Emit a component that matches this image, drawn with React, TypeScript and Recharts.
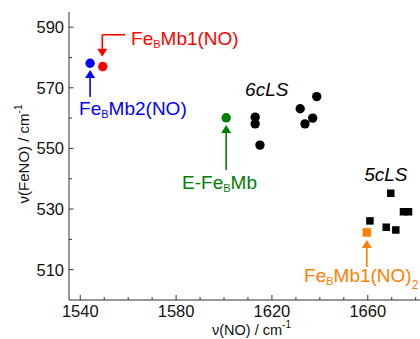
import React from 'react';
import { ScatterChart, Scatter, XAxis, YAxis, ReferenceLine, ReferenceDot } from 'recharts';

const FONT = '"Liberation Sans", Arial, sans-serif';
const AXIS = '#333333';

const colors = {
  mb1: '#ff0000',
  mb2: '#0000ff',
  eFe: '#008000',
  dinitrosyl: '#ff8000',
  ls: '#000000',
};

// axes
const xDomain = [1535.3, 1681.8];
const yDomain = [500, 595];
const xTicks = [1540, 1550, 1560, 1570, 1580, 1590, 1600, 1610, 1620, 1630, 1640, 1650, 1660, 1670, 1680];
const yTicks = [510, 520, 530, 540, 550, 560, 570, 580, 590];

// data: nu(NO), nu(FeNO)
const mb2X = [1544.1];
const mb2Y = [578.1];
const mb1X = [1549.4];
const mb1Y = [577.0];
const eFeX = [1600.9];
const eFeY = [560.1];
const sixcX = [1613.0, 1613.0, 1615.0, 1631.8, 1633.8, 1637.0, 1638.7];
const sixcY = [560.3, 558.1, 551.1, 563.1, 558.1, 560.0, 567.1];
const fivecX = [1660.9, 1669.6, 1667.7, 1671.7, 1674.9, 1677.0];
const fivecY = [526.1, 535.2, 524.0, 523.1, 529.1, 529.1];
const dinitrosylX = [1659.6];
const dinitrosylY = [522.3];

const pts = (xs: number[], ys: number[]) => xs.map((x, i) => ({ x, y: ys[i] }));

const isMajorX = (v: number) => (v - 1540) % 40 === 0;
const isMajorY = (v: number) => (v - 510) % 20 === 0;

const BottomTick = (p: any) => {
  const v = p.payload.value;
  const major = isMajorX(v);
  return (
    <g>
      <line x1={p.x} y1={p.y} x2={p.x} y2={p.y - (major ? 5 : 3)} stroke={AXIS} strokeWidth={1} />
      {major && (
        <text x={p.x} y={p.y + 16.7} textAnchor="middle" fontSize={16.5} fontFamily={FONT} fill="#111">
          {v}
        </text>
      )}
    </g>
  );
};

const TopTick = (p: any) => {
  const major = isMajorX(p.payload.value);
  return <line x1={p.x} y1={p.y} x2={p.x} y2={p.y + (major ? 4.5 : 3)} stroke={AXIS} strokeWidth={1} />;
};

const LeftTick = (p: any) => {
  const v = p.payload.value;
  const major = isMajorY(v);
  return (
    <g>
      <line x1={p.x} y1={p.y} x2={p.x + (major ? 4.5 : 3)} y2={p.y} stroke={AXIS} strokeWidth={1} />
      {major && (
        <text x={p.x - 5} y={p.y + 6} textAnchor="end" fontSize={16.5} fontFamily={FONT} fill="#111">
          {v}
        </text>
      )}
    </g>
  );
};

const XTitle = (props: any) => {
  const vb = props.viewBox;
  return (
    <text x={vb.x + vb.width / 2 + 7} y={vb.y + 35} textAnchor="middle" fontSize={14.5} fontFamily={FONT} fill="#111">
      ν(NO) / cm
      <tspan fontSize={10} dy={-7}>-1</tspan>
    </text>
  );
};

const YTitle = (props: any) => {
  const vb = props.viewBox;
  const cx = 28.5;
  const cy = vb.y + vb.height / 2 - 2;
  return (
    <text x={cx} y={cy} transform={`rotate(-90, ${cx}, ${cy})`} textAnchor="middle" fontSize={15} fontFamily={FONT} fill="#111">
      ν(FeNO) / cm
      <tspan fontSize={10} dy={-7}>-1</tspan>
    </text>
  );
};

const dot = (color: string) => (p: any) => <circle cx={p.cx} cy={p.cy} r={4.7} fill={color} />;
const square = (color: string, s: number) => (p: any) => (
  <rect x={p.cx - s / 2} y={p.cy - s / 2} width={s} height={s} fill={color} />
);

// line with optional arrowhead at its end
const arrow = (color: string, head: boolean) => (p: any) => {
  const { x1, y1, x2, y2 } = p;
  const dx = x2 - x1;
  const dy = y2 - y1;
  const len = Math.sqrt(dx * dx + dy * dy) || 1;
  const ux = dx / len;
  const uy = dy / len;
  const L = head ? 8 : 0;
  const hw = 5;
  const bx = x2 - ux * L;
  const by = y2 - uy * L;
  return (
    <g>
      <line x1={x1} y1={y1} x2={bx} y2={by} stroke={color} strokeWidth={1.6} />
      {head && (
        <polygon
          points={`${x2},${y2} ${bx - uy * hw},${by + ux * hw} ${bx + uy * hw},${by - ux * hw}`}
          fill={color}
        />
      )}
    </g>
  );
};

type Note = { x: number; y: number; color: string; italic?: boolean; main: string; sub?: string; rest?: string; tail?: string };

const annotation = (n: Note) => (p: any) => (
  <text x={p.cx} y={p.cy} fontSize={19} fontFamily={FONT} fill={n.color} fontStyle={n.italic ? 'italic' : 'normal'}>
    {n.main}
    {n.sub && (
      <tspan fontSize={11} dy={3}>
        {n.sub}
      </tspan>
    )}
    {n.rest && <tspan dy={n.sub ? -3 : 0}>{n.rest}</tspan>}
    {n.tail && (
      <tspan fontSize={12} dy={7}>
        {n.tail}
      </tspan>
    )}
  </text>
);

const notes: Note[] = [
  { x: 1561.2, y: 584.1, color: colors.mb1, main: 'Fe', sub: 'B', rest: 'Mb1(NO)' },
  { x: 1539.5, y: 561.0, color: colors.mb2, main: 'Fe', sub: 'B', rest: 'Mb2(NO)' },
  { x: 1582.5, y: 536.5, color: colors.eFe, main: 'E-Fe', sub: 'B', rest: 'Mb' },
  { x: 1608.8, y: 567.4, color: colors.ls, italic: true, main: '6cLS' },
  { x: 1658.5, y: 539.3, color: colors.ls, italic: true, main: '5cLS' },
  { x: 1633.4, y: 506.0, color: colors.dinitrosyl, main: 'Fe', sub: 'B', rest: 'Mb1(NO)', tail: '2' },
];

const arrows = [
  { from: { x: 1558.7, y: 587.5 }, to: { x: 1549.2, y: 587.5 }, color: colors.mb1, head: false },
  { from: { x: 1549.2, y: 587.5 }, to: { x: 1549.2, y: 580.2 }, color: colors.mb1, head: true },
  { from: { x: 1544.1, y: 567.0 }, to: { x: 1544.1, y: 575.9 }, color: colors.mb2, head: true },
  { from: { x: 1600.9, y: 542.9 }, to: { x: 1600.9, y: 557.7 }, color: colors.eFe, head: true },
  { from: { x: 1659.6, y: 510.9 }, to: { x: 1659.6, y: 519.8 }, color: colors.dinitrosyl, head: true },
];

export default function App() {
  return (
    <div style={{ position: 'absolute', left: 0, top: 0, width: 420, height: 339, background: '#fff' }}>
      <ScatterChart width={420} height={339} margin={{ top: 12, right: 0, bottom: 0, left: 0 }}>
        <XAxis
          xAxisId="b"
          type="number"
          dataKey="x"
          domain={xDomain}
          allowDataOverflow
          ticks={xTicks}
          interval={0}
          height={39}
          tickSize={0}
          tickMargin={0}
          tickLine={false}
          tick={<BottomTick />}
          axisLine={{ stroke: AXIS, strokeWidth: 1 }}
          label={{ content: XTitle }}
        />
        <XAxis
          xAxisId="t"
          orientation="top"
          type="number"
          dataKey="x"
          domain={xDomain}
          allowDataOverflow
          ticks={xTicks}
          interval={0}
          height={0}
          tickSize={0}
          tickMargin={0}
          tickLine={false}
          tick={<TopTick />}
          axisLine={{ stroke: AXIS, strokeWidth: 1 }}
        />
        <YAxis
          type="number"
          dataKey="y"
          domain={yDomain}
          allowDataOverflow
          ticks={yTicks}
          interval={0}
          width={69}
          tickSize={0}
          tickMargin={0}
          tickLine={false}
          tick={<LeftTick />}
          axisLine={{ stroke: AXIS, strokeWidth: 1 }}
          label={{ content: YTitle }}
        />

        {arrows.map((a, i) => (
          <ReferenceLine
            key={'a' + i}
            xAxisId="b"
            segment={[a.from, a.to]}
            ifOverflow="visible"
            shape={arrow(a.color, a.head)}
          />
        ))}

        <Scatter xAxisId="b" data={pts(sixcX, sixcY)} shape={dot(colors.ls)} isAnimationActive={false} />
        <Scatter xAxisId="b" data={pts(fivecX, fivecY)} shape={square(colors.ls, 7.5)} isAnimationActive={false} />
        <Scatter xAxisId="b" data={pts(mb2X, mb2Y)} shape={dot(colors.mb2)} isAnimationActive={false} />
        <Scatter xAxisId="b" data={pts(mb1X, mb1Y)} shape={dot(colors.mb1)} isAnimationActive={false} />
        <Scatter xAxisId="b" data={pts(eFeX, eFeY)} shape={dot(colors.eFe)} isAnimationActive={false} />
        <Scatter
          xAxisId="b"
          data={pts(dinitrosylX, dinitrosylY)}
          shape={square(colors.dinitrosyl, 8.5)}
          isAnimationActive={false}
        />

        {notes.map((n, i) => (
          <ReferenceDot
            key={'n' + i}
            xAxisId="b"
            x={n.x}
            y={n.y}
            r={0}
            ifOverflow="visible"
            shape={annotation(n)}
          />
        ))}
      </ScatterChart>
    </div>
  );
}
